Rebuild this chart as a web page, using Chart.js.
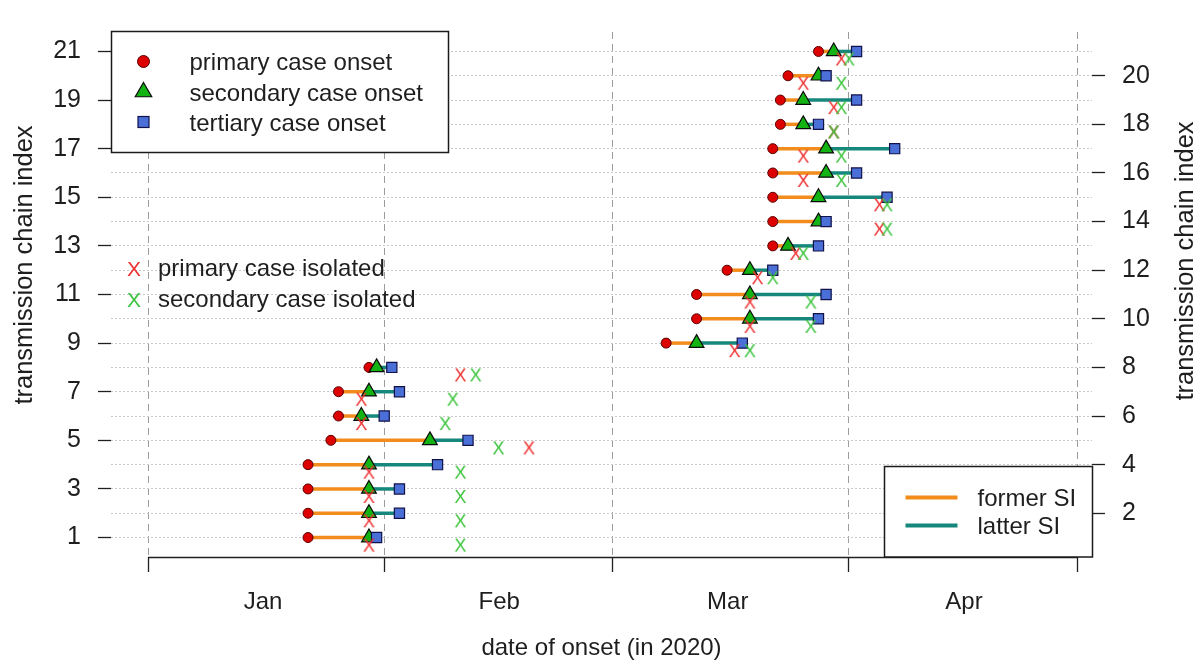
<!DOCTYPE html>
<html>
<head>
<meta charset="utf-8">
<title>Transmission chains: onset and isolation dates</title>
<script src="https://cdn.jsdelivr.net/npm/chart.js@4.4.1/dist/chart.umd.min.js"></script>
<style>
  html, body { margin: 0; padding: 0; background: #ffffff; }
  canvas { display: block; }
</style>
</head>
<body>
<canvas id="chains" width="1202" height="666"></canvas>
<script>
// Dates are counted in days after 1 January 2020.
const chainIndex = [1, 2, 3, 4, 5, 6, 7, 8, 9, 10, 11, 12, 13, 14, 15, 16, 17, 18, 19, 20, 21];
const primaryOnset      = [21, 21, 21, 21, 24, 25, 25, 29, 68, 72, 72, 76, 82, 82, 82, 82, 82, 83, 83, 84, 88];
const secondaryOnset    = [29, 29, 29, 29, 37, 28, 29, 30, 72, 79, 79, 79, 84, 88, 88, 89, 89, 86, 86, 88, 90];
const tertiaryOnset     = [30, 33, 33, 38, 42, 31, 33, 32, 78, 88, 89, 82, 88, 89, 97, 93, 98, 88, 93, 89, 93];
const primaryIsolated   = [29, 29, 29, 29, 50, 28, 28, 41, 77, 79, 79, 80, 85, 96, 96, 86, 86, 90, 90, 86, 91];
const secondaryIsolated = [41, 41, 41, 41, 46, 39, 40, 43, 79, 87, 87, 82, 86, 97, 97, 91, 91, 90, 91, 91, 92];

// Axis breaks between months and the month names shown between them.
const monthBreaks = [0, 31, 61, 92, 122];
const monthLabels = ['Jan', 'Feb', 'Mar', 'Apr'];
const leftTicks  = [1, 3, 5, 7, 9, 11, 13, 15, 17, 19, 21];
const rightTicks = [2, 4, 6, 8, 10, 12, 14, 16, 18, 20];

const FONT = '"Liberation Sans", Arial, Helvetica, sans-serif';
const TEXT = '#1e1e1e';
const ORANGE = '#f28c1c';
const TEAL = '#16877d';
const RED_X = '#ef3030';
const GREEN_X = '#3cc43c';
const ISO_DROP = 0.33;   // isolation marks sit just under their chain row

// A letter "X" rendered to a small canvas, used as a point style.
function letterMark(color, px) {
  const c = document.createElement('canvas');
  c.width = Math.ceil(px * 0.8);
  c.height = Math.ceil(px * 0.95);
  const g = c.getContext('2d');
  g.font = px + 'px ' + FONT;
  g.fillStyle = color;
  g.textAlign = 'center';
  g.textBaseline = 'alphabetic';
  g.fillText('X', c.width / 2, c.height / 2 + px * 0.716 / 2);
  return c;
}

const redMark = letterMark(RED_X, 18);
const greenMark = letterMark(GREEN_X, 18);

const datasets = [];

chainIndex.forEach((row, i) => {
  datasets.push({
    label: 'former SI ' + row,
    data: [{ x: primaryOnset[i], y: row }, { x: secondaryOnset[i], y: row }],
    showLine: true, borderColor: ORANGE, borderWidth: 3.5, pointRadius: 0, order: 6
  });
  datasets.push({
    label: 'latter SI ' + row,
    data: [{ x: secondaryOnset[i], y: row }, { x: tertiaryOnset[i], y: row }],
    showLine: true, borderColor: TEAL, borderWidth: 3.5, pointRadius: 0, order: 5
  });
});

datasets.push({
  label: 'primary case onset',
  data: chainIndex.map((row, i) => ({ x: primaryOnset[i], y: row })),
  pointStyle: 'circle', pointRadius: 5, backgroundColor: '#dc0000',
  borderColor: '#5a0000', borderWidth: 1, order: 4
});
datasets.push({
  label: 'secondary case onset',
  data: chainIndex.map((row, i) => ({ x: secondaryOnset[i], y: row })),
  pointStyle: 'triangle', pointRadius: 8.5, backgroundColor: '#12b312',
  borderColor: '#0a0a0a', borderWidth: 1.2, order: 3
});
datasets.push({
  label: 'tertiary case onset',
  data: chainIndex.map((row, i) => ({ x: tertiaryOnset[i], y: row })),
  pointStyle: 'rect', pointRadius: 7.2, backgroundColor: '#4a6fd6',
  borderColor: '#12124a', borderWidth: 1.2, order: 2
});
datasets.push({
  label: 'primary case isolated',
  data: chainIndex.map((row, i) => ({ x: primaryIsolated[i], y: row - ISO_DROP })),
  pointStyle: redMark, pointRadius: 6, order: 1
});
datasets.push({
  label: 'secondary case isolated',
  data: chainIndex.map((row, i) => ({ x: secondaryIsolated[i], y: row - ISO_DROP })),
  pointStyle: greenMark, pointRadius: 6, order: 0
});

function verticalText(ctx, text, x, y) {
  ctx.save();
  ctx.translate(x, y);
  ctx.rotate(-Math.PI / 2);
  ctx.textAlign = 'center';
  ctx.textBaseline = 'middle';
  ctx.fillText(text, 0, 0);
  ctx.restore();
}

// Axis line, y titles and the three keys.
const decorations = {
  id: 'decorations',
  beforeDatasetsDraw(chart) {
    const { ctx, chartArea: a, scales: { x } } = chart;
    ctx.save();
    ctx.strokeStyle = '#202020';
    ctx.lineWidth = 1.3;
    const yLine = Math.round(a.bottom) + 0.5;
    ctx.beginPath();
    ctx.moveTo(x.getPixelForValue(monthBreaks[0]), yLine);
    ctx.lineTo(x.getPixelForValue(monthBreaks[monthBreaks.length - 1]), yLine);
    ctx.stroke();
    ctx.restore();
  },
  afterDraw(chart) {
    const { ctx, chartArea: a } = chart;
    ctx.save();
    ctx.font = '25.5px ' + FONT;
    ctx.fillStyle = TEXT;
    verticalText(ctx, 'transmission chain index', 25, 265);
    verticalText(ctx, 'transmission chain index', 1186, 261);

    // onset key, top left
    ctx.font = '24px ' + FONT;
    const bx = a.left + 0.5, by = a.top - 0.5, bw = 337, bh = 121;
    ctx.fillStyle = '#ffffff';
    ctx.fillRect(bx, by, bw, bh);
    ctx.strokeStyle = '#1a1a1a';
    ctx.lineWidth = 1.5;
    ctx.strokeRect(bx, by, bw, bh);
    const mx = bx + 32, tx = bx + 78;
    const rowsY = [by + 30, by + 60.5, by + 90.5];
    // circle
    ctx.beginPath();
    ctx.arc(mx, rowsY[0], 6, 0, Math.PI * 2);
    ctx.fillStyle = '#dc0000'; ctx.fill();
    ctx.lineWidth = 1; ctx.strokeStyle = '#5a0000'; ctx.stroke();
    // triangle
    const r = 9.5;
    ctx.beginPath();
    ctx.moveTo(mx, rowsY[1] - r);
    ctx.lineTo(mx + r * Math.sin(2 * Math.PI / 3), rowsY[1] + r / 2);
    ctx.lineTo(mx - r * Math.sin(2 * Math.PI / 3), rowsY[1] + r / 2);
    ctx.closePath();
    ctx.fillStyle = '#12b312'; ctx.fill();
    ctx.lineWidth = 1.2; ctx.strokeStyle = '#0a0a0a'; ctx.stroke();
    // square
    ctx.fillStyle = '#4a6fd6';
    ctx.fillRect(mx - 5.5, rowsY[2] - 5.5, 11, 11);
    ctx.strokeStyle = '#12124a';
    ctx.strokeRect(mx - 5.5, rowsY[2] - 5.5, 11, 11);
    ctx.fillStyle = TEXT;
    ctx.textAlign = 'left';
    ctx.textBaseline = 'middle';
    ['primary case onset', 'secondary case onset', 'tertiary case onset'].forEach((t, i) => {
      ctx.fillText(t, tx, rowsY[i] + 2);
    });

    // isolation key, no frame
    ctx.font = '21px ' + FONT;
    ctx.textAlign = 'center';
    ctx.fillStyle = RED_X;
    ctx.fillText('X', a.left + 23, 270);
    ctx.fillStyle = GREEN_X;
    ctx.fillText('X', a.left + 23, 301.5);
    ctx.font = '24px ' + FONT;
    ctx.textAlign = 'left';
    ctx.fillStyle = TEXT;
    ctx.fillText('primary case isolated', a.left + 47, 269);
    ctx.fillText('secondary case isolated', a.left + 47, 300.5);

    // serial interval key, bottom right
    const cw = 208, ch = 90.5;
    const cx = a.right + 0.5 - cw, cy = a.bottom - ch;
    ctx.fillStyle = '#ffffff';
    ctx.fillRect(cx, cy, cw, ch);
    ctx.strokeStyle = '#1a1a1a';
    ctx.lineWidth = 1.5;
    ctx.strokeRect(cx, cy, cw, ch);
    ctx.lineWidth = 4;
    ctx.strokeStyle = ORANGE;
    ctx.beginPath(); ctx.moveTo(cx + 21, cy + 31); ctx.lineTo(cx + 73, cy + 31); ctx.stroke();
    ctx.strokeStyle = TEAL;
    ctx.beginPath(); ctx.moveTo(cx + 21, cy + 59); ctx.lineTo(cx + 73, cy + 59); ctx.stroke();
    ctx.fillStyle = TEXT;
    ctx.fillText('former SI', cx + 93, cy + 32.5);
    ctx.fillText('latter SI', cx + 93, cy + 61);
    ctx.restore();
  }
};

Chart.defaults.font.family = FONT;
Chart.defaults.color = TEXT;

new Chart(document.getElementById('chains'), {
  type: 'scatter',
  data: { datasets },
  plugins: [decorations],
  options: {
    responsive: false,
    animation: false,
    devicePixelRatio: 1,
    events: [],
    layout: { padding: { top: 10, left: 0, right: 0, bottom: 0 } },
    plugins: { legend: { display: false }, tooltip: { enabled: false } },
    scales: {
      x: {
        type: 'linear',
        position: 'bottom',
        min: -4.86,
        max: 123.9,
        afterBuildTicks: (s) => { s.ticks = monthBreaks.map(v => ({ value: v })); },
        afterFit: (s) => { s.height = 109; },
        ticks: {
          autoSkip: false, maxRotation: 0, minRotation: 0,
          font: { size: 24 }, color: TEXT, padding: 16, labelOffset: 115,
          callback: (v, i) => monthLabels[i] || ''
        },
        grid: {
          color: '#9c9c9c', lineWidth: 1, drawTicks: true, tickLength: 15,
          tickColor: '#202020', tickWidth: 1.3, tickBorderDash: []
        },
        border: { display: false, dash: [7, 5] },
        title: {
          display: true, text: 'date of onset (in 2020)',
          font: { size: 24 }, color: TEXT, padding: { top: 0, bottom: 3.6 }
        }
      },
      y: {
        type: 'linear',
        position: 'left',
        min: 0.2,
        max: 21.8,
        afterBuildTicks: (s) => { s.ticks = chainIndex.map(v => ({ value: v })); },
        afterFit: (s) => { s.width = 111; },
        ticks: {
          autoSkip: false, font: { size: 25 }, color: TEXT, padding: 17,
          callback: (v) => leftTicks.includes(v) ? String(v) : ''
        },
        grid: {
          color: '#c8c8c8', lineWidth: 1, drawTicks: true, tickLength: 13,
          tickColor: (c) => (c.tick && leftTicks.includes(c.tick.value)) ? '#202020' : 'rgba(0,0,0,0)',
          tickWidth: 1.3, tickBorderDash: []
        },
        border: { display: false, dash: [2, 2] }
      },
      y2: {
        type: 'linear',
        position: 'right',
        min: 0.2,
        max: 21.8,
        afterBuildTicks: (s) => { s.ticks = rightTicks.map(v => ({ value: v })); },
        afterFit: (s) => { s.width = 110; },
        ticks: {
          autoSkip: false, font: { size: 25 }, color: TEXT, padding: 17,
          callback: (v) => String(v)
        },
        grid: {
          drawOnChartArea: false, drawTicks: true, tickLength: 13,
          tickColor: '#202020', tickWidth: 1.3
        },
        border: { display: false }
      }
    }
  }
});
</script>
</body>
</html>
